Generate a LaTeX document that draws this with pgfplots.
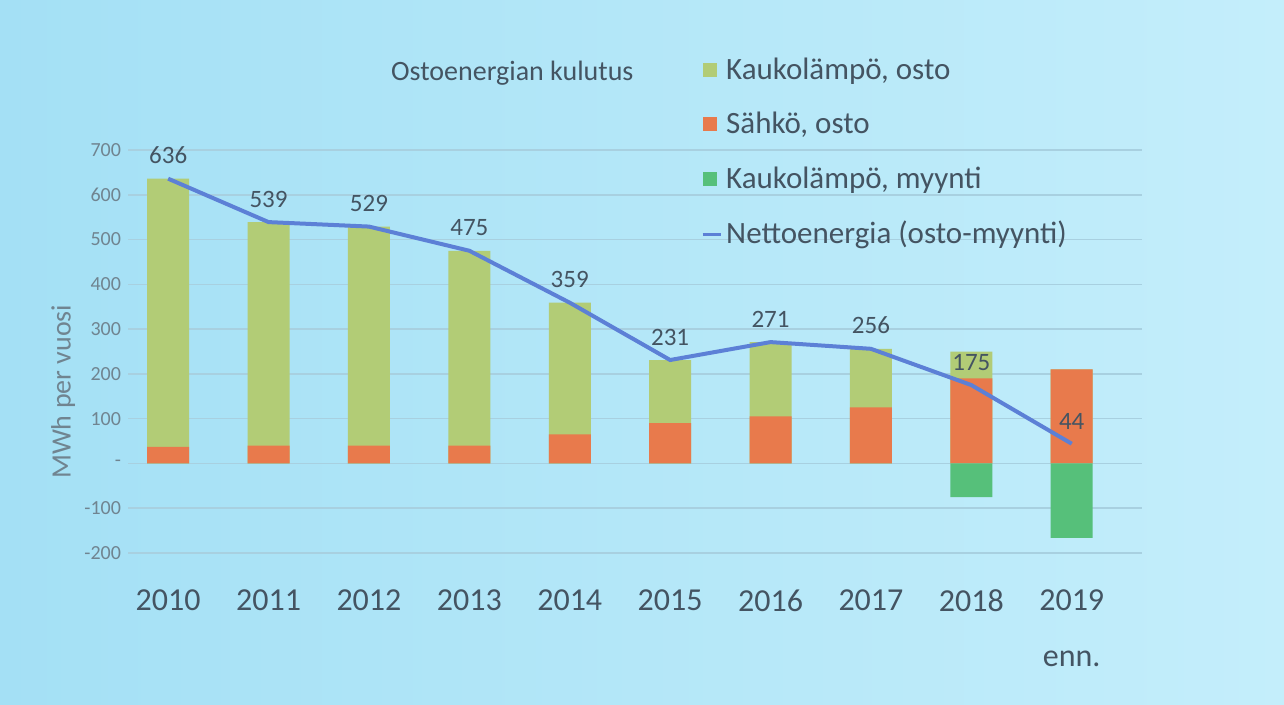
\documentclass[border=0pt]{standalone}
\usepackage{pgfplots}
\pgfplotsset{compat=1.18}
\usepackage{pgfplotstable}
\usepackage{fontspec}
\setmainfont{Carlito}
\definecolor{bgA}{RGB}{164,224,245}
\definecolor{bgB}{RGB}{196,238,251}
\definecolor{klosto}{RGB}{178,204,118}
\definecolor{sahko}{RGB}{232,122,76}
\definecolor{myynti}{RGB}{86,192,122}
\definecolor{netto}{RGB}{92,128,214}
\definecolor{gridc}{RGB}{168,208,224}
\definecolor{txt}{RGB}{68,84,98}
\definecolor{tickc}{RGB}{112,132,144}

\pgfplotstableread{
x sahko kl myynti netto
0 37 599 0 636
1 40 499 0 539
2 40 489 0 529
3 40 435 0 475
4 65 294 0 359
5 90 141 0 231
6 105 166 0 271
7 125 131 0 256
8 190 60 -75 175
9 210 0 -166 44
}\datatable

\begin{document}
\begin{tikzpicture}
\shade[left color=bgA, right color=bgB] (0,0) rectangle (642pt,352.5pt);
\useasboundingbox (0,0) rectangle (642pt,352.5pt);
\begin{axis}[
  at={(64pt,76pt)}, anchor=south west,
  scale only axis, width=507pt, height=201.5pt,
  xmin=-0.4, xmax=9.7, ymin=-200, ymax=700,
  xtick={0,...,9},
  xticklabels={2010,2011,2012,2013,2014,2015,2016,2017,2018,{2019\\enn.}},
  xticklabel style={align=center, anchor=north, yshift=-15pt, text=txt,
    font=\fontsize{16}{28}\selectfont},
  ytick={-200,-100,0,100,200,300,400,500,600,700},
  yticklabels={-200,-100,-,100,200,300,400,500,600,700},
  yticklabel style={text=tickc, font=\fontsize{10}{11}\selectfont},
  axis line style={draw=none}, major tick length=0pt,
  ymajorgrids, grid style={gridc, line width=0.8pt},
  ylabel={MWh per vuosi},
  ylabel style={at={(axis description cs:-0.064,0.40)}, anchor=center,
    text=tickc, font=\fontsize{14}{15}\selectfont},
  title={Ostoenergian kulutus},
  title style={at={(axis description cs:0.379,1.16)}, anchor=center,
    font=\fontsize{14}{15}\selectfont, text=txt},
  /pgf/number format/assume math mode=true,
  legend style={at={(0.559,1.25)}, anchor=north west, draw=none, fill=none,
    font=\fontsize{15.5}{16}\selectfont, text=txt, row sep=11pt},
  legend cell align=left,
  clip=false,
]
\addplot[ybar, bar width=21pt, bar shift=0pt, fill=klosto, draw=none,
  legend image code/.code={\fill[klosto] (0pt,-3.5pt) rectangle (7pt,3.5pt);}]
  table[x=x, y expr=\thisrow{sahko}+\thisrow{kl}] {\datatable};
\addlegendentry{Kaukolämpö, osto}
\addplot[ybar, bar width=21pt, bar shift=0pt, fill=sahko, draw=none,
  legend image code/.code={\fill[sahko] (0pt,-3.5pt) rectangle (7pt,3.5pt);}]
  table[x=x, y=sahko] {\datatable};
\addlegendentry{Sähkö, osto}
\addplot[ybar, bar width=21pt, bar shift=0pt, fill=myynti, draw=none,
  legend image code/.code={\fill[myynti] (0pt,-3.5pt) rectangle (7pt,3.5pt);}]
  table[x=x, y=myynti] {\datatable};
\addlegendentry{Kaukolämpö, myynti}
\addplot[netto, line width=2pt, mark=none,
  nodes near coords,
  every node near coord/.append style={text=txt, anchor=south, yshift=3pt,
    font=\fontsize{12.5}{13}\selectfont},
  legend image code/.code={\draw[netto, line width=1.5pt] (0pt,0pt) -- (9pt,0pt);}]
  table[x=x, y=netto] {\datatable};
\addlegendentry{Nettoenergia (osto-myynti)}
\end{axis}
\end{tikzpicture}
\end{document}
